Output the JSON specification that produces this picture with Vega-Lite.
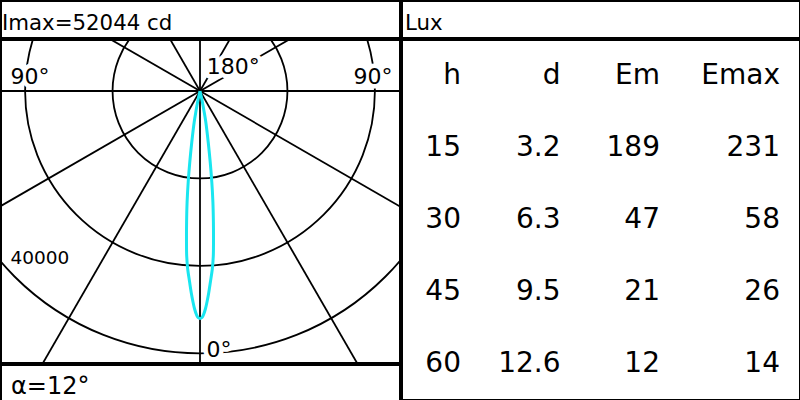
{
  "$schema": "https://vega.github.io/schema/vega-lite/v6.json",
  "padding": 0,
  "spacing": 0,
  "config": {"view": {"stroke": "black", "strokeWidth": 2}, "font": "DejaVu Sans", "concat": {"spacing": 0}},
  "datasets": {
    "lux": [
      {"h": 15, "d": 3.2, "Em": 189, "Emax": 231},
      {"h": 30, "d": 6.3, "Em": 47, "Emax": 58},
      {"h": 45, "d": 9.5, "Em": 21, "Emax": 26},
      {"h": 60, "d": 12.6, "Em": 12, "Emax": 14}
    ]
  },
  "hconcat": [
    {
      "spacing": 0,
      "vconcat": [
        {
          "width": 399, "height": 37,
          "data": {"values": [{"t": "Imax=52044 cd"}]},
          "mark": {"type": "text", "align": "left", "baseline": "alphabetic", "fontSize": 21.3, "dx": 1, "dy": 10.5, "color": "black"},
          "encoding": {
            "text": {"field": "t"},
            "x": {"datum": 0, "type": "quantitative", "scale": {"domain": [0, 1]}, "axis": null}
          }
        },
        {
          "width": 399, "height": 323,
          "layer": [
            {
              "data": {"values": [
                {"deg": 0, "x": 0, "y": 80000, "x2": 0, "y2": -80000},
                {"deg": 30, "x": 40000, "y": 69282, "x2": -40000, "y2": -69282},
                {"deg": 60, "x": 69282, "y": 40000, "x2": -69282, "y2": -40000},
                {"deg": 90, "x": 80000, "y": 0, "x2": -80000, "y2": 0},
                {"deg": 120, "x": 69282, "y": -40000, "x2": -69282, "y2": 40000},
                {"deg": 150, "x": 40000, "y": -69282, "x2": -40000, "y2": 69282}
              ]},
              "mark": {"type": "rule", "color": "black", "strokeWidth": 1.8, "clip": true},
              "encoding": {
                "x": {"field": "x", "type": "quantitative", "scale": {"domain": [-45511, 45740], "nice": false, "zero": false}, "axis": null},
                "y": {"field": "y", "type": "quantitative", "scale": {"domain": [-11664, 62206], "nice": false, "zero": false, "reverse": true}, "axis": null},
                "x2": {"field": "x2"},
                "y2": {"field": "y2"}
              }
            },
            {
              "data": {"values": [{"ring": 20000}, {"ring": 40000}, {"ring": 60000}]},
              "mark": {"type": "arc", "theta": 0, "theta2": 6.2832, "filled": false, "color": "black", "strokeWidth": 1.8, "clip": true},
              "encoding": {
                "x": {"datum": 0, "type": "quantitative", "scale": {"domain": [-45511, 45740], "nice": false, "zero": false}, "axis": null},
                "y": {"datum": 0, "type": "quantitative", "scale": {"domain": [-11664, 62206], "nice": false, "zero": false, "reverse": true}, "axis": null},
                "radius": {"field": "ring", "type": "quantitative", "stack": null, "scale": {"type": "linear", "domain": [0, 60000], "range": [0, 262.35], "zero": true}}
              }
            },
            {
              "data": {"values": [
                {"i": 0, "x": 0, "y": 0},
                {"i": 1, "x": 503, "y": 2287},
                {"i": 2, "x": 915, "y": 4574},
                {"i": 3, "x": 1326, "y": 7090},
                {"i": 4, "x": 1875, "y": 11664},
                {"i": 5, "x": 2333, "y": 16238},
                {"i": 6, "x": 2699, "y": 20812},
                {"i": 7, "x": 2950, "y": 25386},
                {"i": 8, "x": 3065, "y": 29960},
                {"i": 9, "x": 3087, "y": 34534},
                {"i": 10, "x": 3042, "y": 37736},
                {"i": 11, "x": 2813, "y": 40709},
                {"i": 12, "x": 2378, "y": 43682},
                {"i": 13, "x": 1990, "y": 46197},
                {"i": 14, "x": 1601, "y": 48256},
                {"i": 15, "x": 1235, "y": 49857},
                {"i": 16, "x": 778, "y": 51229},
                {"i": 17, "x": 457, "y": 51800},
                {"i": 18, "x": 0, "y": 52044},
                {"i": 19, "x": -457, "y": 51800},
                {"i": 20, "x": -778, "y": 51229},
                {"i": 21, "x": -1235, "y": 49857},
                {"i": 22, "x": -1601, "y": 48256},
                {"i": 23, "x": -1990, "y": 46197},
                {"i": 24, "x": -2378, "y": 43682},
                {"i": 25, "x": -2813, "y": 40709},
                {"i": 26, "x": -3042, "y": 37736},
                {"i": 27, "x": -3087, "y": 34534},
                {"i": 28, "x": -3065, "y": 29960},
                {"i": 29, "x": -2950, "y": 25386},
                {"i": 30, "x": -2699, "y": 20812},
                {"i": 31, "x": -2333, "y": 16238},
                {"i": 32, "x": -1875, "y": 11664},
                {"i": 33, "x": -1326, "y": 7090},
                {"i": 34, "x": -915, "y": 4574},
                {"i": 35, "x": -503, "y": 2287},
                {"i": 36, "x": 0, "y": 0}
              ]},
              "mark": {"type": "line", "color": "#19e6f0", "strokeWidth": 3, "interpolate": "catmull-rom", "clip": true},
              "encoding": {
                "x": {"field": "x", "type": "quantitative", "scale": {"domain": [-45511, 45740], "nice": false, "zero": false}, "axis": null},
                "y": {"field": "y", "type": "quantitative", "scale": {"domain": [-11664, 62206], "nice": false, "zero": false, "reverse": true}, "axis": null},
                "order": {"field": "i", "type": "quantitative"}
              }
            },
            {
              "data": {"values": [
                {"label": "90°", "x": -43339, "y": -1601},
                {"label": "90°", "x": 35105, "y": -1601},
                {"label": "180°", "x": 1532, "y": -3888},
                {"label": "0°", "x": 1487, "y": 60834}
              ]},
              "layer": [
                {"mark": {"type": "text", "align": "left", "baseline": "alphabetic", "fontSize": 22, "color": "white", "stroke": "white", "strokeWidth": 9, "strokeJoin": "round"}},
                {"mark": {"type": "text", "align": "left", "baseline": "alphabetic", "fontSize": 22, "color": "black"}}
              ],
              "encoding": {
                "x": {"field": "x", "type": "quantitative", "scale": {"domain": [-45511, 45740], "nice": false, "zero": false}, "axis": null},
                "y": {"field": "y", "type": "quantitative", "scale": {"domain": [-11664, 62206], "nice": false, "zero": false, "reverse": true}, "axis": null},
                "text": {"field": "label"}
              }
            },
            {
              "data": {"values": [{"label": "40000", "x": -43339, "y": 39565}]},
              "mark": {"type": "text", "align": "left", "baseline": "alphabetic", "fontSize": 18.5, "color": "black"},
              "encoding": {
                "x": {"field": "x", "type": "quantitative", "scale": {"domain": [-45511, 45740], "nice": false, "zero": false}, "axis": null},
                "y": {"field": "y", "type": "quantitative", "scale": {"domain": [-11664, 62206], "nice": false, "zero": false, "reverse": true}, "axis": null},
                "text": {"field": "label"}
              }
            }
          ]
        },
        {
          "width": 399, "height": 37,
          "data": {"values": [{"t": "α=12°"}]},
          "mark": {"type": "text", "align": "left", "baseline": "alphabetic", "fontSize": 24, "dx": 10, "dy": 10.5, "color": "black"},
          "encoding": {
            "text": {"field": "t"},
            "x": {"datum": 0, "type": "quantitative", "scale": {"domain": [0, 1]}, "axis": null}
          }
        }
      ]
    },
    {
      "spacing": 0,
      "vconcat": [
        {
          "width": 398, "height": 37,
          "data": {"values": [{"t": "Lux"}]},
          "mark": {"type": "text", "align": "left", "baseline": "alphabetic", "fontSize": 21.3, "dx": 3, "dy": 10.5, "color": "black"},
          "encoding": {
            "text": {"field": "t"},
            "x": {"datum": 0, "type": "quantitative", "scale": {"domain": [0, 1]}, "axis": null}
          }
        },
        {
          "width": 398, "height": 360,
          "resolve": {"scale": {"x": "independent"}},
          "layer": [
            {
              "data": {"values": [{"col": "h"}, {"col": "d"}, {"col": "Em"}]},
              "mark": {"type": "text", "align": "right", "baseline": "alphabetic", "fontSize": 28, "color": "black"},
              "encoding": {
                "x": {"field": "col", "type": "nominal", "scale": {"type": "point", "domain": ["h", "d", "Em"], "range": [59, 258], "padding": 0}, "axis": null},
                "y": {"datum": "hdr", "type": "ordinal", "scale": {"type": "point", "domain": ["hdr", 15, 30, 45, 60], "range": [44, 332], "padding": 0}, "axis": null},
                "text": {"field": "col"}
              }
            },
            {
              "data": {"name": "lux"},
              "transform": [{"fold": ["h", "d", "Em"], "as": ["col", "val"]}],
              "mark": {"type": "text", "align": "right", "baseline": "alphabetic", "fontSize": 28, "color": "black"},
              "encoding": {
                "x": {"field": "col", "type": "nominal", "scale": {"type": "point", "domain": ["h", "d", "Em"], "range": [59, 258], "padding": 0}, "axis": null},
                "y": {"field": "h", "type": "ordinal", "scale": {"type": "point", "domain": ["hdr", 15, 30, 45, 60], "range": [44, 332], "padding": 0}, "axis": null},
                "text": {"field": "val", "type": "nominal"}
              }
            },
            {
              "data": {"values": [{"col": "Emax"}]},
              "mark": {"type": "text", "align": "right", "baseline": "alphabetic", "fontSize": 28, "color": "black"},
              "encoding": {
                "x": {"field": "col", "type": "nominal", "scale": {"type": "point", "domain": ["Emax"], "range": [370, 386], "padding": 0}, "axis": null},
                "y": {"datum": "hdr", "type": "ordinal", "scale": {"type": "point", "domain": ["hdr", 15, 30, 45, 60], "range": [44, 332], "padding": 0}, "axis": null},
                "text": {"field": "col"}
              }
            },
            {
              "data": {"name": "lux"},
              "mark": {"type": "text", "align": "right", "baseline": "alphabetic", "fontSize": 28, "color": "black"},
              "encoding": {
                "x": {"datum": "Emax", "type": "nominal", "scale": {"type": "point", "domain": ["Emax"], "range": [370, 386], "padding": 0}, "axis": null},
                "y": {"field": "h", "type": "ordinal", "scale": {"type": "point", "domain": ["hdr", 15, 30, 45, 60], "range": [44, 332], "padding": 0}, "axis": null},
                "text": {"field": "Emax", "type": "nominal"}
              }
            }
          ]
        }
      ]
    }
  ]
}
